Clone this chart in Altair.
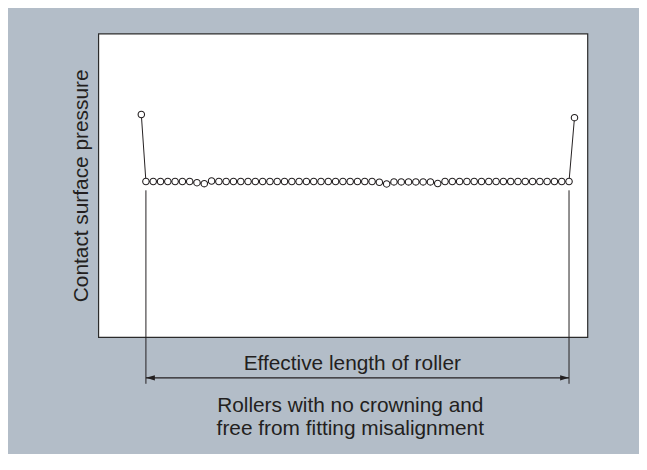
import altair as alt
import pandas as pd

# ---- data ----
# position along the roller (point index; the two edge peaks sit just outside the flat run)
positions = [0.37] + list(range(1, 60)) + [59.75]
pressure = (
    [1.43]
    + [1.0] * 7
    + [0.992, 0.986, 1.003]
    + [1.0] * 22
    + [0.995, 0.984]
    + [0.997] * 6
    + [0.987]
    + [1.0] * 18
    + [1.41]
)
y_title = "Contact surface pressure"
arrow_label = "Effective length of roller"
caption = "Rollers with no crowning and\nfree from fitting misalignment"

INK = "#231f20"
FONT = "Liberation Sans"

df = pd.DataFrame({"pos": positions, "pressure": pressure})
ends = pd.DataFrame({"pos": [positions[1], positions[-2]]})
span = pd.DataFrame({"start": [positions[1]], "end": [positions[-2]]})

xs = alt.Scale(domain=[-5.53, 61.52], nice=False, zero=False)
ys = alt.Scale(domain=[0, 1.95], nice=False, zero=True)

x_enc = alt.X("pos:Q", scale=xs, axis=None)
y_enc = alt.Y(
    "pressure:Q",
    scale=ys,
    axis=alt.Axis(
        title=y_title,
        domain=False,
        ticks=False,
        labels=False,
        grid=False,
        titleFont=FONT,
        titleFontSize=21,
        titleFontWeight="normal",
        titleColor=INK,
        titlePadding=11,
        titleBaseline="alphabetic",
    ),
)

line = alt.Chart(df).mark_line(color=INK, strokeWidth=1).encode(x=x_enc, y=y_enc)
pts = alt.Chart(df).mark_point(
    shape="circle", size=42, fill="white", fillOpacity=1, stroke=INK, strokeWidth=1.1, opacity=1
).encode(x=x_enc, y=y_enc)

ext = alt.Chart(ends).mark_rule(color=INK, strokeWidth=1).encode(
    x=alt.X("pos:Q", scale=xs, axis=None), y=alt.value(158), y2=alt.value(353)
)
shaft = alt.Chart(span).mark_rule(color=INK, strokeWidth=1.2).encode(
    x=alt.X("start:Q", scale=xs, axis=None), x2="end:Q", y=alt.value(347)
)
head_l = alt.Chart(span).mark_point(
    shape="M 0 0 L 2 -0.6 L 2 0.6 Z", size=81, filled=True, color=INK, opacity=1
).encode(x=alt.X("start:Q", scale=xs, axis=None), y=alt.value(347))
head_r = alt.Chart(span).mark_point(
    shape="M 0 0 L -2 -0.6 L -2 0.6 Z", size=81, filled=True, color=INK, opacity=1
).encode(x=alt.X("end:Q", scale=xs, axis=None), y=alt.value(347))

lbl = alt.Chart(pd.DataFrame({"t": [arrow_label]})).mark_text(
    font=FONT, fontSize=21, color=INK, align="center", baseline="alphabetic"
).encode(x=alt.value(256), y=alt.value(339.5), text="t:N")

cap = alt.Chart(pd.DataFrame({"t": [caption]})).mark_text(
    font=FONT, fontSize=21, color=INK, align="center", baseline="alphabetic",
    lineBreak="\n", lineHeight=24
).encode(x=alt.value(254), y=alt.value(381), text="t:N")

chart = (
    alt.layer(line, pts, ext, shaft, head_l, head_r, lbl, cap)
    .properties(
        width=493,
        height=306,
        autosize=alt.AutoSizeParams(type="none"),
        padding={"left": 91, "top": 24, "right": 52, "bottom": 116},
        background="#b3bdc8",
    )
    .configure_view(fill="white", stroke="#2b2b2b", strokeWidth=1.2)
)

chart.save("out.html", embed_options={"renderer": "svg", "actions": False})
